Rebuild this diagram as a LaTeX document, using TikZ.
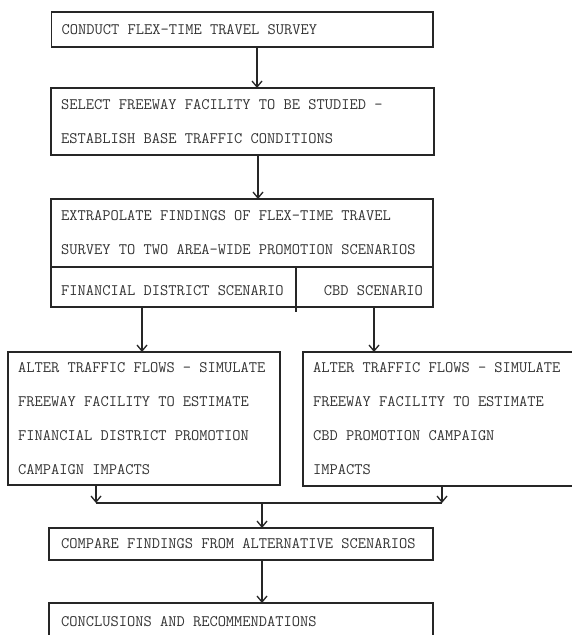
\documentclass[tikz,border=0pt]{standalone}
\usetikzlibrary{arrows.meta}
\begin{document}
\begin{tikzpicture}[x=1pt,y=-1pt,
  box/.style={draw=black!85, line width=1.1pt, inner sep=0pt, outer sep=0pt, anchor=north west},
  txt/.style={font=\fontsize{16}{34}\selectfont\ttfamily, text=black!80, inner sep=0pt, align=left, anchor=west},
  arr/.style={draw=black!85, line width=1.3pt, -{Straight Barb[length=6pt,width=10pt]}},
  conn/.style={draw=black!85, line width=1.3pt}]
\useasboundingbox (0,0) rectangle (571,635);
% boxes
\node[box, minimum width=381.5pt, minimum height=35pt] (b1) at (51.5,12) {};
\node[box, minimum width=383pt, minimum height=67pt] (b2) at (51,88) {};
\node[box, minimum width=382pt, minimum height=68pt] (b3t) at (51,199) {};
\node[box, minimum width=245pt, minimum height=40pt] (b3l) at (51,267) {};
\node[box, minimum width=137pt, minimum height=40pt] (b3r) at (296,267) {};
\node[box, minimum width=272pt, minimum height=133pt] (b4l) at (8,352) {};
\node[box, minimum width=290pt, minimum height=134pt] (b4r) at (303,352) {};
\node[box, minimum width=384pt, minimum height=32pt] (b5) at (49,528) {};
\node[box, minimum width=384pt, minimum height=45pt] (b6) at (49,603) {};
\draw[draw=black!85, line width=1.1pt] (b3l.south east) -- ++(0,5);
% texts
\node[txt] (t1) at ([xshift=10pt]b1.west) {CONDUCT FLEX-TIME TRAVEL SURVEY};
\node[txt] (t2) at ([xshift=10pt]b2.west) {SELECT FREEWAY FACILITY TO BE STUDIED -\\ESTABLISH BASE TRAFFIC CONDITIONS};
\node[txt] (t3) at ([xshift=10pt]b3t.west) {EXTRAPOLATE FINDINGS OF FLEX-TIME TRAVEL\\SURVEY TO TWO AREA-WIDE PROMOTION SCENARIOS};
\node[txt] (t3l) at ([xshift=10pt,yshift=-4pt]b3l.west) {FINANCIAL DISTRICT SCENARIO};
\node[txt, anchor=east] (t3r) at ([xshift=-10pt,yshift=-4pt]b3r.east) {CBD SCENARIO};
\node[txt] (t4l) at ([xshift=10pt]b4l.west) {ALTER TRAFFIC FLOWS - SIMULATE\\FREEWAY FACILITY TO ESTIMATE\\FINANCIAL DISTRICT PROMOTION\\CAMPAIGN IMPACTS};
\node[txt] (t4r) at ([xshift=10pt]b4r.west) {ALTER TRAFFIC FLOWS - SIMULATE\\FREEWAY FACILITY TO ESTIMATE\\CBD PROMOTION CAMPAIGN\\IMPACTS};
\node[txt] (t5) at ([xshift=12pt]b5.west) {COMPARE FINDINGS FROM ALTERNATIVE SCENARIOS};
\node[txt] (t6) at ([xshift=12pt,yshift=-19pt]b6.north west) {CONCLUSIONS AND RECOMMENDATIONS};
% connectors
\coordinate (a1) at (257,0);
\coordinate (a2) at (258,0);
\coordinate (a3) at (142,0);
\coordinate (a4) at (374,0);
\coordinate (jl) at (96,503);
\coordinate (jr) at (442,503);
\coordinate (jm) at (262,503);
\draw[arr] (b1.south -| a1) -- (b2.north -| a1);
\draw[arr] (b2.south -| a2) -- (b3t.north -| a2);
\draw[arr] (b3l.south -| a3) -- (b4l.north -| a3);
\draw[arr] (b3r.south -| a4) -- (b4r.north -| a4);
\draw[arr] (b4l.south -| jl) -- (jl);
\draw[arr] (b4r.south -| jr) -- (jr);
\draw[conn] (jl) -- (jr);
\draw[arr] (jm) -- (b5.north -| jm);
\draw[arr] (b5.south -| jm) -- (b6.north -| jm);
\end{tikzpicture}
\end{document}
